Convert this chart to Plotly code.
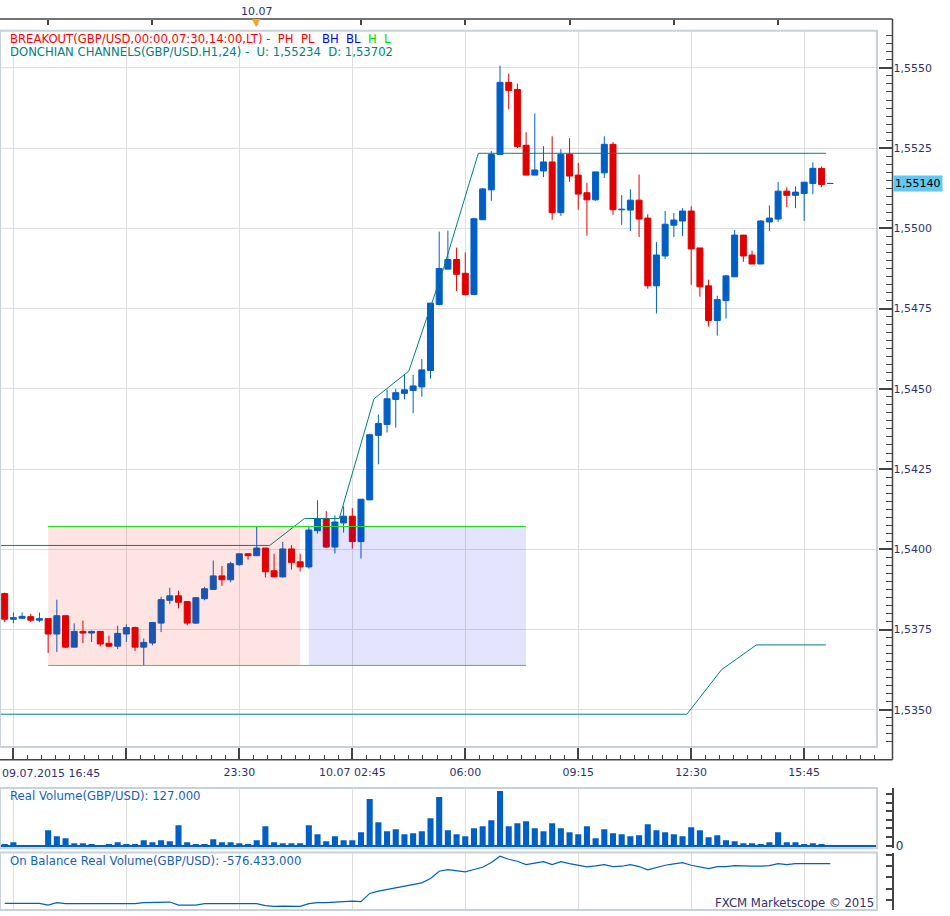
import plotly.graph_objects as go

# GBP/USD 15-minute bars, 09.07.2015 16:30 .. 10.07.2015 16:30 (x = bar index)
opens = [1.53862, 1.53782, 1.53785, 1.53790, 1.53779, 1.53784, 1.53736, 1.53793, 1.53695, 1.53744,
         1.53739, 1.53744, 1.53707, 1.53698, 1.53736, 1.53756, 1.53695, 1.53708, 1.53770, 1.53841,
         1.53855, 1.53837, 1.53770, 1.53846, 1.53875, 1.53917, 1.53905, 1.53952, 1.53986, 1.53980,
         1.54004, 1.53933, 1.53914, 1.54001, 1.53961, 1.53945, 1.54058, 1.54095, 1.54007, 1.54082,
         1.54103, 1.54024, 1.54154, 1.54355, 1.54389, 1.54467, 1.54486, 1.54495, 1.54506, 1.54557,
         1.54763, 1.54873, 1.54903, 1.54860, 1.54794, 1.55027, 1.55120, 1.55230, 1.55455, 1.55433,
         1.55259, 1.55166, 1.55179, 1.55207, 1.55049, 1.55231, 1.55166, 1.55111, 1.55089, 1.55173,
         1.55262, 1.55058, 1.55057, 1.55088, 1.55032, 1.54821, 1.54914, 1.55010, 1.55023, 1.55054,
         1.54939, 1.54821, 1.54713, 1.54775, 1.54849, 1.54979, 1.54917, 1.54889, 1.55020, 1.55029,
         1.55116, 1.55103, 1.55109, 1.55140, 1.55187, 1.55140]
highs = [1.53865, 1.53803, 1.53803, 1.53799, 1.53803, 1.53784, 1.53843, 1.53793, 1.53769, 1.53778,
         1.53747, 1.53744, 1.53731, 1.53762, 1.53766, 1.53759, 1.53722, 1.53772, 1.53852, 1.53880,
         1.53871, 1.53837, 1.53852, 1.53883, 1.53965, 1.53948, 1.53961, 1.53986, 1.53986, 1.54071,
         1.54004, 1.53986, 1.54023, 1.54013, 1.53986, 1.54069, 1.54153, 1.54119, 1.54106, 1.54134,
         1.54128, 1.54156, 1.54360, 1.54420, 1.54498, 1.54500, 1.54546, 1.54544, 1.54593, 1.54767,
         1.54990, 1.54993, 1.54940, 1.54925, 1.55033, 1.55126, 1.55241, 1.55507, 1.55482, 1.55451,
         1.55300, 1.55358, 1.55256, 1.55287, 1.55247, 1.55281, 1.55204, 1.55142, 1.55176, 1.55287,
         1.55269, 1.55104, 1.55122, 1.55168, 1.55044, 1.54958, 1.55054, 1.55048, 1.55063, 1.55069,
         1.54939, 1.54840, 1.54790, 1.54855, 1.54995, 1.54979, 1.54930, 1.55026, 1.55072, 1.55144,
         1.55128, 1.55131, 1.55144, 1.55206, 1.55193, 1.55140]
lows = [1.53773, 1.53770, 1.53782, 1.53773, 1.53773, 1.53677, 1.53680, 1.53692, 1.53695, 1.53708,
        1.53711, 1.53698, 1.53695, 1.53689, 1.53711, 1.53683, 1.53638, 1.53701, 1.53742, 1.53829,
        1.53816, 1.53763, 1.53767, 1.53841, 1.53875, 1.53886, 1.53897, 1.53949, 1.53968, 1.53980,
        1.53912, 1.53914, 1.53912, 1.53937, 1.53931, 1.53940, 1.54049, 1.54004, 1.53987, 1.54052,
        1.54002, 1.53971, 1.54154, 1.54265, 1.54364, 1.54379, 1.54467, 1.54424, 1.54475, 1.54532,
        1.54760, 1.54873, 1.54805, 1.54791, 1.54794, 1.55027, 1.55086, 1.55230, 1.55371, 1.55250,
        1.55166, 1.55166, 1.55160, 1.55027, 1.55039, 1.55145, 1.55058, 1.54977, 1.55086, 1.55157,
        1.55042, 1.55011, 1.54992, 1.54973, 1.54812, 1.54735, 1.54905, 1.54973, 1.54976, 1.54824,
        1.54787, 1.54694, 1.54666, 1.54719, 1.54849, 1.54896, 1.54889, 1.54889, 1.54992, 1.55020,
        1.55066, 1.55063, 1.55023, 1.55106, 1.55128, 1.55140]
closes = [1.53782, 1.53787, 1.53791, 1.53779, 1.53784, 1.53736, 1.53793, 1.53695, 1.53744, 1.53739,
          1.53744, 1.53705, 1.53698, 1.53738, 1.53756, 1.53695, 1.53710, 1.53772, 1.53843, 1.53855,
          1.53835, 1.53770, 1.53849, 1.53877, 1.53917, 1.53905, 1.53955, 1.53986, 1.53980, 1.54004,
          1.53930, 1.53914, 1.54001, 1.53959, 1.53945, 1.54060, 1.54095, 1.54007, 1.54085, 1.54103,
          1.54024, 1.54156, 1.54357, 1.54392, 1.54469, 1.54488, 1.54497, 1.54509, 1.54559, 1.54767,
          1.54875, 1.54903, 1.54857, 1.54794, 1.55030, 1.55123, 1.55230, 1.55455, 1.55430, 1.55255,
          1.55166, 1.55182, 1.55207, 1.55049, 1.55231, 1.55163, 1.55107, 1.55089, 1.55176, 1.55262,
          1.55058, 1.55060, 1.55088, 1.55029, 1.54821, 1.54917, 1.55013, 1.55026, 1.55054, 1.54936,
          1.54818, 1.54713, 1.54778, 1.54852, 1.54979, 1.54914, 1.54889, 1.55023, 1.55032, 1.55116,
          1.55103, 1.55113, 1.55144, 1.55187, 1.55137, 1.55140]

# real volume (millions) and on balance real volume (millions)
volumes = [1.6, 3.9, 0.1, 0.1, 0.1, 17.9, 10.9, 8.6, 2.7, 2.7,
           1.6, 0.1, 1.6, 3.9, 1.6, 1.6, 6.2, 3.9, 6.2, 5.1,
           23.7, 3.9, 1.6, 1.6, 7.4, 3.9, 3.9, 2.7, 1.6, 6.2,
           22.6, 3.9, 2.7, 2.7, 2.7, 23.7, 13.2, 5.1, 10.9, 6.2,
           6.2, 15.6, 54.1, 27.2, 16.7, 19.1, 13.2, 14.4, 16.7, 31.9,
           56.4, 17.9, 13.2, 10.9, 20.2, 22.6, 29.6, 63.4, 22.6, 26.1,
           28.4, 20.2, 16.7, 26.1, 20.2, 15.6, 13.2, 22.6, 8.6, 19.1,
           14.4, 13.2, 10.9, 12.1, 24.9, 17.9, 15.6, 13.2, 10.9, 21.4,
           17.9, 9.7, 12.1, 6.2, 5.1, 2.7, 2.7, 1.6, 3.9, 15.6,
           3.9, 3.9, 1.6, 2.7, 1.6, 0.127]
obv = [-931.6, -931.6, -931.6, -931.6, -931.6, -946.4, -925.7, -934.6, -934.6, -934.6,
       -934.6, -934.6, -934.6, -934.6, -934.6, -934.6, -925.7, -925.7, -919.8, -919.8,
       -946.4, -946.4, -946.4, -934.6, -934.6, -934.6, -934.6, -934.6, -934.6, -934.6,
       -952.3, -958.2, -955.3, -958.2, -958.2, -934.6, -925.7, -925.7, -919.8, -910.9,
       -910.9, -916.8, -842.8, -822.1, -807.3, -786.6, -777.7, -762.9, -748.1, -709.6,
       -644.5, -629.7, -638.6, -650.4, -629.7, -609.0, -567.5, -511.3, -537.9, -555.7,
       -585.3, -573.4, -558.6, -585.3, -558.6, -576.4, -591.2, -606.0, -597.1, -585.3,
       -603.0, -600.1, -585.3, -603.0, -632.6, -609.0, -591.2, -579.4, -567.5, -591.2,
       -609.0, -620.8, -603.0, -603.0, -594.2, -600.1, -600.1, -600.1, -594.2, -576.4,
       -585.3, -576.4, -576.4, -576.4, -576.4, -576.433]

# Donchian channel (H1, 24) vertices
don_up_x = [-1, 30.5, 34.5, 38.5, 42.5, 46.5, 50.5, 54.5, 94.5]
don_up_y = [1.54012, 1.54012, 1.54096, 1.54096, 1.54469, 1.54555, 1.54875, 1.55234, 1.55234]
don_dn_x = [-1, 78.5, 82.5, 86.5, 94.5]
don_dn_y = [1.53486, 1.53486, 1.53625, 1.53702, 1.53702]

# breakout session: range bars and breakout bars
range_start = 5
range_end = 34
breakout_end = 60

# axes
time_tick_idx = [1, 14, 27, 40, 53, 66, 79, 92]
time_tick_text = ["", "", "23:30", "10.07 02:45", "06:00", "09:15", "12:30", "15:45"]
first_time_label = "09.07.2015 16:45"
day_tick_idx = [5, 17, 29, 41, 53, 65, 77, 89]
day_change_idx = 29
day_label = "10.07"
price_ticks = [1.5350, 1.5375, 1.5400, 1.5425, 1.5450, 1.5475, 1.5500, 1.5525, 1.5550]
vol_ticks = [0, 10, 20, 30, 40, 50, 60]
obv_ticks = [-900, -800, -700, -600, -500]

W, H = 950, 916
UP = "#005fc5"
DOWN = "#e00000"
TEAL = "#008080"
NAVY = "#2f306b"
GRID = "#dedede"
FRAME = "#c6d1dc"
AXIS = "#444444"
FONT = "DejaVu Sans"


def px_x(p):
    return p / W


def px_y(p):
    return (H - p) / H


idx = list(range(len(opens)))
colors = [UP if c >= o else DOWN for o, c in zip(opens, closes)]

fig = go.Figure()

# wicks
for col in (UP, DOWN):
    wx, wy = [], []
    for i in idx:
        if colors[i] == col:
            wx += [i, i, None]
            wy += [lows[i], highs[i], None]
    fig.add_trace(go.Scatter(x=wx, y=wy, mode="lines", line=dict(color=col, width=1),
                             hoverinfo="skip"))

# bodies
fig.add_trace(go.Bar(
    x=idx,
    y=[abs(c - o) for o, c in zip(opens, closes)],
    base=[min(o, c) for o, c in zip(opens, closes)],
    width=0.69,
    marker=dict(color=colors, line=dict(color=colors, width=1)),
    hoverinfo="skip",
))

# Donchian channels
fig.add_trace(go.Scatter(x=don_up_x, y=don_up_y, mode="lines", line=dict(color=TEAL, width=1)))
fig.add_trace(go.Scatter(x=don_dn_x, y=don_dn_y, mode="lines", line=dict(color=TEAL, width=1)))

# volume
fig.add_trace(go.Bar(x=idx, y=volumes, width=0.7, marker=dict(color=UP, line=dict(width=0)),
                     xaxis="x2", yaxis="y2"))
# on balance volume
fig.add_trace(go.Scatter(x=idx, y=obv, mode="lines", line=dict(color=UP, width=1.2),
                         xaxis="x3", yaxis="y3"))
# anchor for the top date axis
fig.add_trace(go.Scatter(x=[day_change_idx], y=[closes[day_change_idx]], mode="markers",
                         marker=dict(opacity=0), xaxis="x4", yaxis="y", hoverinfo="skip"))

# breakout boxes
box_hi = max(highs[range_start:range_end + 1])
box_lo = min(lows[range_start:range_end + 1])
fig.add_shape(type="rect", x0=range_start, x1=range_end, y0=box_lo, y1=box_hi, xref="x", yref="y",
              fillcolor="rgba(255,0,0,0.105)", line=dict(width=0), layer="above")
fig.add_shape(type="rect", x0=range_end + 1, x1=breakout_end, y0=box_lo, y1=box_hi, xref="x", yref="y",
              fillcolor="rgba(0,0,255,0.105)", line=dict(width=0), layer="above")
for lvl in (box_hi, box_lo):
    fig.add_shape(type="line", x0=range_start, x1=breakout_end, y0=lvl, y1=lvl, xref="x", yref="y",
                  line=dict(color="#22dd22", width=1), layer="above")

# panel frames
for xr, yr in (("x", "y"), ("x2", "y2"), ("x3", "y3")):
    fig.add_shape(type="rect", xref=xr + " domain", yref=yr + " domain", x0=0, x1=1, y0=0, y1=1,
                  line=dict(color=FRAME, width=2), layer="above")

# outer axis lines of the price panel
ax_r = px_x(892.5)
fig.add_shape(type="line", xref="paper", yref="paper", x0=0, x1=ax_r, y0=px_y(19), y1=px_y(19),
              line=dict(color=AXIS, width=1.5))
fig.add_shape(type="line", xref="paper", yref="paper", x0=0, x1=ax_r, y0=px_y(764), y1=px_y(764),
              line=dict(color=AXIS, width=1.5))
fig.add_shape(type="line", xref="paper", yref="paper", x0=ax_r, x1=ax_r, y0=px_y(764), y1=px_y(19),
              line=dict(color=AXIS, width=1.5))

xrange = [-0.541, 100.38]
xdom = [0, px_x(877)]
tickfont = dict(family=FONT, size=11, color=NAVY)

fig.update_layout(
    width=W, height=H,
    margin=dict(l=0, r=0, t=0, b=0),
    paper_bgcolor="white",
    plot_bgcolor="rgba(0,0,0,0)",
    showlegend=False,
    hovermode=False,
    separators=",.",
    font=dict(family=FONT, size=11, color=NAVY),
    xaxis=dict(domain=xdom, range=xrange, anchor="free", position=px_y(764), side="bottom",
               tickmode="array", tickvals=time_tick_idx, ticktext=time_tick_text,
               ticks="inside", ticklen=12, tickwidth=1.5, tickcolor=AXIS, tickfont=tickfont,
               ticklabelstandoff=4,
               minor=dict(tickmode="linear", tick0=time_tick_idx[0], dtick=13 / 8, ticks="inside",
                          ticklen=5, tickwidth=1, tickcolor=AXIS, showgrid=False),
               showgrid=True, gridcolor=GRID, gridwidth=1, showline=False, zeroline=False),
    yaxis=dict(domain=[px_y(751), px_y(31)], range=[1.533842, 1.556156], anchor="free",
               position=ax_r, side="right", tickmode="array", tickvals=price_ticks,
               tickformat=".4f", ticks="inside", ticklen=14, tickwidth=1.5, tickcolor=AXIS,
               tickfont=tickfont,
               minor=dict(tickmode="linear", tick0=price_ticks[0], dtick=0.00025, ticks="inside",
                          ticklen=7, tickwidth=1, tickcolor=AXIS, showgrid=False),
               showgrid=True, gridcolor=GRID, gridwidth=1, showline=False, zeroline=False),
    xaxis4=dict(overlaying="x", range=xrange, anchor="free", position=px_y(19), side="top",
                tickmode="array", tickvals=day_tick_idx,
                ticktext=[day_label if t == day_change_idx else "" for t in day_tick_idx],
                ticks="inside", ticklen=5, tickwidth=1.5, tickcolor=AXIS, tickfont=tickfont,
                ticklabelstandoff=2, showgrid=False, showline=False, zeroline=False),
    xaxis2=dict(domain=xdom, range=xrange, anchor="y2", tickmode="array", tickvals=time_tick_idx,
                showticklabels=False, ticks="", showgrid=True, gridcolor=GRID, showline=False,
                zeroline=False),
    yaxis2=dict(domain=[px_y(853), px_y(792.3)], range=[-3.1, 67], anchor="free",
                position=px_x(892.7), side="right", tickmode="array", tickvals=vol_ticks,
                ticktext=["0" if v == 0 else "" for v in vol_ticks], ticks="inside", ticklen=6,
                tickwidth=1.5, tickcolor=AXIS, tickfont=dict(family=FONT, size=12, color=NAVY),
                showline=True, linecolor=AXIS, linewidth=1.5, showgrid=False,
                zeroline=True, zerolinecolor=UP, zerolinewidth=1.5),
    xaxis3=dict(domain=xdom, range=xrange, anchor="y3", tickmode="array", tickvals=time_tick_idx,
                showticklabels=False, ticks="", showgrid=True, gridcolor=GRID, showline=False,
                zeroline=False),
    yaxis3=dict(domain=[px_y(915), px_y(857.3)], range=[-990.8, -478.7], anchor="free",
                position=px_x(892.7), side="right", tickmode="array", tickvals=obv_ticks,
                ticktext=["" for _ in obv_ticks], ticks="inside", ticklen=6, tickwidth=1.5,
                tickcolor=AXIS, showline=True, linecolor=AXIS, linewidth=1.5, showgrid=False,
                zeroline=False),
)


def fmt_price(v):
    return f"{v:.5f}".replace(".", ",")


def fmt_volume(v):
    return f"{round(v * 1e6):,}".replace(",", ".")


nb = "\u00a0"
header1 = (f'<span style="color:#ff0000">BREAKOUT(GBP/USD,00:00,07:30,14:00,LT) -{nb}{nb}PH{nb}{nb}PL</span>'
           f'{nb}{nb}<span style="color:#0000ff">BH{nb}{nb}BL</span>'
           f'{nb}{nb}<span style="color:#00dd00">H{nb}{nb}L</span>')
header2 = (f"DONCHIAN CHANNELS(GBP/USD.H1,24) -{nb}{nb}U: {fmt_price(don_up_y[-1])}"
           f"{nb}{nb}D: {fmt_price(don_dn_y[-1])}")

ann = [
    dict(text=header1, x=px_x(8), y=px_y(39.5), font=dict(size=11.65)),
    dict(text=header2, x=px_x(8), y=px_y(52.5), font=dict(size=11.65, color=TEAL)),
    dict(text=f"Real Volume(GBP/USD): {fmt_volume(volumes[-1])}", x=px_x(8), y=px_y(800),
         font=dict(size=11.7, color="#1660bd")),
    dict(text=f"On Balance Real Volume(GBP/USD): {fmt_volume(obv[-1])}", x=px_x(8), y=px_y(866),
         font=dict(size=11.7, color="#1660bd")),
    dict(text=first_time_label, x=0, y=px_y(777.7), font=tickfont),
    dict(text="FXCM Marketscope \u00a9 2015", x=px_x(876), xanchor="right", y=px_y(907.5),
         font=dict(size=11.7, color=NAVY)),
]
for a in ann:
    fig.add_annotation(xref="paper", yref="paper", showarrow=False, xanchor=a.pop("xanchor", "left"),
                       yanchor="middle", **a)

# current price label
fig.add_annotation(xref="paper", yref="y", x=px_x(893), y=closes[-1], xanchor="left", yanchor="middle",
                   text=fmt_price(closes[-1]), showarrow=False, bgcolor="#63c7f3", borderpad=1,
                   font=dict(family=FONT, size=11, color="black"))
# date change marker
fig.add_annotation(xref="x", yref="paper", x=day_change_idx, y=px_y(23), text="\u25bc", showarrow=False,
                   font=dict(size=11, color="#f5a623"), xanchor="center", yanchor="middle")

# drop the default page margin so the 950x916 figure fills the window
fig.write_html("out.html", config={"displayModeBar": False},
               post_script="document.body.style.margin='0';")
